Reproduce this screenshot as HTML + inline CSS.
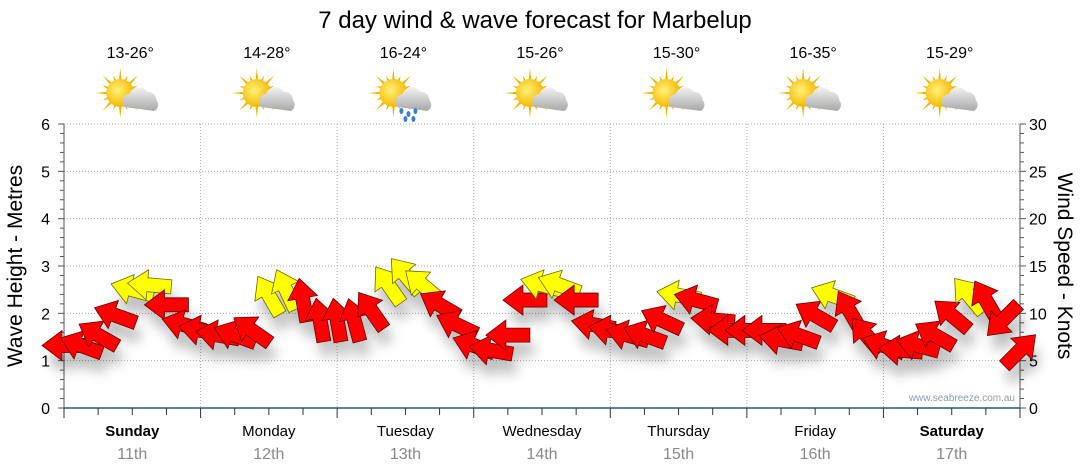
<!DOCTYPE html>
<html><head><meta charset="utf-8">
<style>
html,body{margin:0;padding:0;background:#fff;}
svg{display:block;font-family:"Liberation Sans",sans-serif;}
</style></head>
<body>
<svg id="chart" width="1080" height="475" viewBox="0 0 1080 475" xmlns="http://www.w3.org/2000/svg">
<defs>
<radialGradient id="sunG" cx="40%" cy="40%" r="60%"><stop offset="0" stop-color="#fff27a"/><stop offset="1" stop-color="#f5b800"/></radialGradient>
<linearGradient id="cloudG" x1="0" y1="0" x2="0" y2="1"><stop offset="0" stop-color="#f2f2f2"/><stop offset="1" stop-color="#a8a8a8"/></linearGradient>
<filter id="shadow" x="-50%" y="-50%" width="200%" height="200%"><feGaussianBlur stdDeviation="6"/></filter>
</defs>
<text x="535" y="28" font-size="24" text-anchor="middle" fill="#000">7 day wind &amp; wave forecast for Marbelup</text>
<g id="grid"></g>
<g id="axes"></g>
<g id="icons"></g>
<g id="shadows" filter="url(#shadow)" opacity="0.25"></g>
<g id="arrows"></g>
<text x="1015" y="401" font-size="10" text-anchor="end" fill="#8a9bb0">www.seabreeze.com.au</text>
<text transform="translate(22,266) rotate(-90)" font-size="21" text-anchor="middle">Wave Height - Metres</text>
<text transform="translate(1058,266) rotate(90)" font-size="21" text-anchor="middle">Wind Speed - Knots</text>
</svg>
<script>
const days=["Sunday","Monday","Tuesday","Wednesday","Thursday","Friday","Saturday"];
const dates=["11th","12th","13th","14th","15th","16th","17th"];
const temps=["13-26°","14-28°","16-24°","15-26°","15-30°","16-35°","15-29°"];
const rainy=[false,false,true,false,false,false,false];
const waveTicks=[0,1,2,3,4,5,6];
const windTicks=[0,5,10,15,20,25,30];
// wind every 3 hours from Sunday 00:00 (knots, arrow direction in degrees, 180 = pointing left)
const windSpeed=[6.6,6.6,7.7,9.8,12.5,13,10.9,8.8,8.2, 7.7,7.7,8.2,11.9,12.5,11.4,9.3,9.3, 9.3,10.3,13,14,13,10.9,8.8,6.6, 6.1,7.7,11.4,13,13,11.4,8.8,8.2, 7.7,7.7,9.3,11.9,11.4,9.3,8.2,8.2, 8.2,7.2,7.7,9.8,11.9,10.3,7.7,6.6, 6.1,6.6,7.7,9.8,11.9,11.4,9.3,6.1];
const windDir=[180,160,150,160,165,175,180,165,170, 170,160,145,120,115,100,100,100, 105,125,125,130,140,150,155,160, 170,180,180,165,160,180,170,170, 165,160,155,170,165,175,180,180, 180,170,160,150,160,120,130,160, 175,165,150,140,130,120,225,45];

const S="http://www.w3.org/2000/svg";
const X0=64,X1=1020,Y0=408,Y1=124;
const dayW=(X1-X0)/7;
const xT=h=>X0+h/(168)*(X1-X0);
const yM=m=>Y0-m/6*(Y0-Y1);
const yK=k=>Y0-k/30*(Y0-Y1);
function el(tag,attrs,parent,txt){const e=document.createElementNS(S,tag);for(const k in attrs)e.setAttribute(k,attrs[k]);if(txt!==undefined)e.textContent=txt;parent.appendChild(e);return e;}
const grid=document.getElementById('grid'),axes=document.getElementById('axes'),icons=document.getElementById('icons'),arrows=document.getElementById('arrows'),shadows=document.getElementById('shadows');

waveTicks.forEach(v=>{
  if(v>0){const g=el('line',{x1:X0,x2:X1,y1:yM(v),y2:yM(v),stroke:'#aaa','stroke-dasharray':'1,2'},grid);
  }
  const t=el('text',{x:50,y:yM(v)+6,'font-size':16,'text-anchor':'end'},axes,String(v));
  
});
windTicks.forEach(v=>{
  const t=el('text',{x:1029,y:yK(v)+6,'font-size':16,'text-anchor':'start'},axes,String(v));
  
});
for(let i=0;i<=30;i++){
  const y=Y0-i*(Y0-Y1)/30;const big=i%5==0;
  el('line',{x1:X0-(big?6:4),x2:X0,y1:y,y2:y,stroke:'#555'},axes);
  el('line',{x1:X1,x2:X1+(big?6:4),y1:y,y2:y,stroke:'#555'},axes);
}
el('line',{x1:X0,x2:X0,y1:Y1,y2:Y0,stroke:'#555'},axes);
el('line',{x1:X1,x2:X1,y1:Y1,y2:Y0,stroke:'#555'},axes);
const bx=el('line',{x1:X0,x2:X1,y1:Y0,y2:Y0,stroke:'#1f5a8a','stroke-width':1.5},axes);

for(let h=0;h<=168;h+=6){const x=xT(h);el('line',{x1:x,x2:x,y1:Y0,y2:Y0+(h%24==0?10:7),stroke:'#333'},axes);}
days.forEach((d,i)=>{
  const cx=X0+dayW*(i+0.5);
  if(i>0){const g=el('line',{x1:X0+dayW*i,x2:X0+dayW*i,y1:Y1,y2:Y0,stroke:'#aaa','stroke-dasharray':'1,2'},grid);
  }
  const t=el('text',{x:cx,y:436,'font-size':15,'text-anchor':'middle','font-weight':(i==0||i==6)?'bold':'normal'},axes,d);
  
  const t2=el('text',{x:cx,y:459,'font-size':16,'text-anchor':'middle',fill:'#888'},axes,dates[i]);
  
  const t3=el('text',{x:cx-2,y:58,'font-size':16,'text-anchor':'middle'},icons,temps[i]);
  
  const g=el('g',{transform:`translate(${cx-12},93)`},icons);
  
  for(let r=0;r<16;r++){const a=r*Math.PI/8;const L=r%2?19:25;
    el('polygon',{points:`${Math.cos(a-0.12)*12},${Math.sin(a-0.12)*12} ${Math.cos(a)*L},${Math.sin(a)*L} ${Math.cos(a+0.12)*12},${Math.sin(a+0.12)*12}`,fill:'#f5b400'},g);}
  el('circle',{cx:0,cy:0,r:14,fill:'url(#sunG)'},g);
  el('path',{d:'M4,14 a8,8 0 0 1 5,-13 a10,10 0 0 1 18,-2 a8,8 0 0 1 9,8 a7,7 0 0 1 -2,11 z',fill:'url(#cloudG)'},g);
  if(rainy[i]){[[8,18],[15,21],[22,18],[12,26],[20,26]].forEach(p=>el('ellipse',{cx:p[0],cy:p[1],rx:2,ry:3,fill:'#3a7fd0'},g));}
});
function arrowPts(){return "-22,-7 2,-7 2,-15 22,0 2,15 2,7 -22,7";}
windSpeed.forEach((s,i)=>{
  const x=xT(i*3),y=yK(s),rot=-windDir[i];
  el('polygon',{points:arrowPts(),transform:`translate(${x+4},${y+14}) rotate(${rot})`,fill:'#000'},shadows);
  const p=el('polygon',{points:arrowPts(),transform:`translate(${x},${y}) rotate(${rot})`,fill:s>=11.5?'#ffff00':'#ff0000',stroke:s>=11.5?'#6b6b00':'#6b0000','stroke-width':0.8},arrows);
  
  
});
</script>
</body></html>
